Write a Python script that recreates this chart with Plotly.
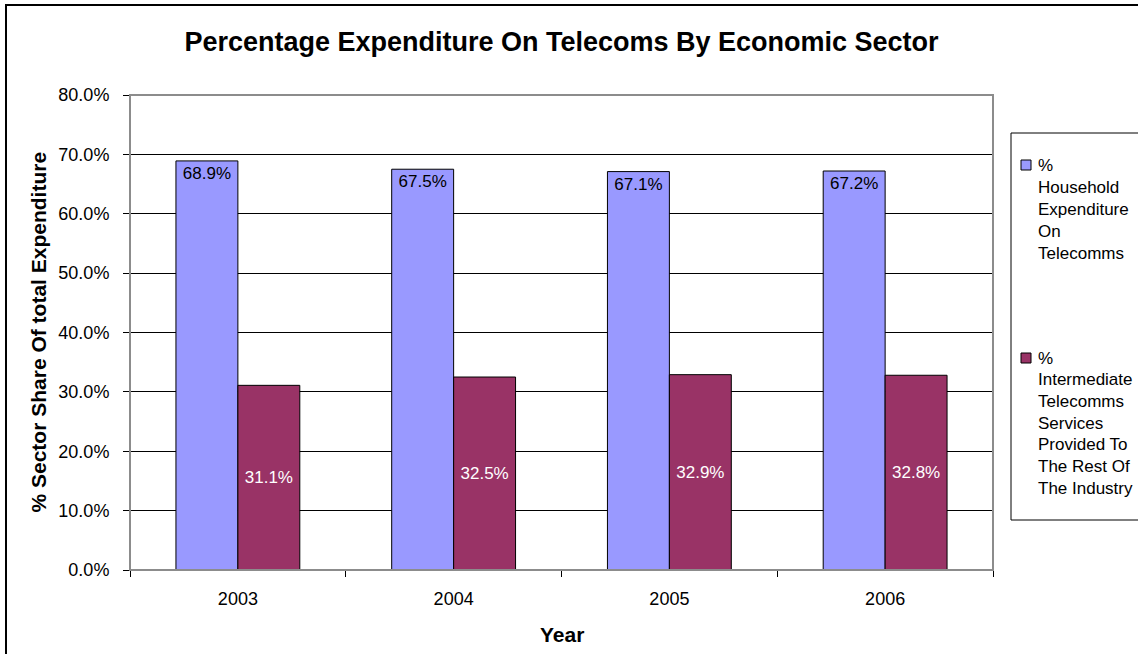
import plotly.graph_objects as go

# ---- data ----
years = ["2003", "2004", "2005", "2006"]
household = [68.9, 67.5, 67.1, 67.2]
intermediate = [31.1, 32.5, 32.9, 32.8]
series_names = [
    "% Household Expenditure On Telecomms",
    "% Intermediate Telecomms Services Provided To The Rest Of The Industry",
]
legend_lines = [
    ["%", "Household", "Expenditure", "On", "Telecomms"],
    ["%", "Intermediate", "Telecomms", "Services", "Provided To", "The Rest Of", "The Industry"],
]
y_ticks = [0, 10, 20, 30, 40, 50, 60, 70, 80]

title = "Percentage Expenditure On Telecoms By Economic Sector"
y_title = "% Sector Share Of total Expenditure"
x_title = "Year"

colors = ["#9999FF", "#993366"]
FONT = "Arial, 'Liberation Sans', sans-serif"

W, H = 1138, 654
L, R, T, B = 130, 993, 95, 570  # plot area in pixels


def px_x(x):
    return (x - L) / (R - L)


def px_y(y):
    return (B - y) / (B - T)


fig = go.Figure()
fig.add_trace(go.Bar(
    x=years, y=household, name=series_names[0],
    marker=dict(color=colors[0], line=dict(color="#000000", width=1)),
    text=[f"{v:.1f}%" for v in household], textposition="inside",
    insidetextanchor="end", textangle=0,
    textfont=dict(family=FONT, size=17, color="#000000"),
    showlegend=False,
))
fig.add_trace(go.Bar(
    x=years, y=intermediate, name=series_names[1],
    marker=dict(color=colors[1], line=dict(color="#000000", width=1)),
    text=[f"{v:.1f}%" for v in intermediate], textposition="inside",
    insidetextanchor="middle", textangle=0,
    textfont=dict(family=FONT, size=17, color="#FFFFFF"),
    showlegend=False,
))

shapes = [
    # plot area border (gray top/right)
    dict(type="rect", xref="paper", yref="paper", x0=0, x1=1, y0=0, y1=1,
         line=dict(color="#8C8C8C", width=2), layer="above"),
    # outer chart border
    dict(type="rect", xref="paper", yref="paper",
         x0=px_x(6), x1=px_x(1200), y0=px_y(700), y1=px_y(5),
         line=dict(color="#000000", width=2), layer="below"),
    # legend box
    dict(type="rect", xref="paper", yref="paper",
         x0=px_x(1011), x1=px_x(1200), y0=px_y(520), y1=px_y(133),
         line=dict(color="#000000", width=1), fillcolor="white"),
]
annotations = []
entry_top = [165, 358]
line_step = [22.2, 21.7]
for i, lines in enumerate(legend_lines):
    y0 = entry_top[i]
    shapes.append(dict(type="rect", xref="paper", yref="paper",
                       x0=px_x(1021), x1=px_x(1031), y0=px_y(y0 + 5), y1=px_y(y0 - 5),
                       fillcolor=colors[i], line=dict(color="#000000", width=1)))
    for j, line in enumerate(lines):
        annotations.append(dict(
            text=line, xref="paper", yref="paper", x=px_x(1036), y=px_y(y0 + j * line_step[i]),
            xanchor="left", yanchor="middle", showarrow=False,
            font=dict(family=FONT, size=17, color="#000000")))

annotations.append(dict(
    text=f"<b>{y_title}</b>", xref="paper", yref="paper", x=px_x(38), y=0.5,
    xanchor="center", yanchor="middle", textangle=-90, showarrow=False,
    font=dict(family=FONT, size=21, color="#000000")))
annotations.append(dict(
    text=f"<b>{x_title}</b>", xref="paper", yref="paper", x=0.5, y=px_y(634),
    xanchor="center", yanchor="middle", showarrow=False,
    font=dict(family=FONT, size=21, color="#000000")))

fig.update_layout(
    width=W, height=H,
    margin=dict(l=L, r=W - R, t=T, b=H - B, autoexpand=False),
    paper_bgcolor="white", plot_bgcolor="white",
    barmode="group", bargap=0.426, bargroupgap=0,
    title=dict(text=f"<b>{title}</b>", x=0.5, xref="paper", y=1 - 42 / H,
               yref="container", xanchor="center", yanchor="middle",
               font=dict(family=FONT, size=27, color="#000000")),
    showlegend=False,
    shapes=shapes, annotations=annotations,
    font=dict(family=FONT, size=18, color="#000000"),
)
fig.update_xaxes(
    type="category", tickson="boundaries", ticks="outside", ticklen=6,
    tickcolor="#000000", showline=True, linecolor="#000000", linewidth=1,
    showgrid=False, tickfont=dict(family=FONT, size=18, color="#000000"),
    ticklabelstandoff=12,
)
fig.update_yaxes(
    range=[0, 80], tickvals=y_ticks, ticktext=[f"{v:.1f}%" for v in y_ticks],
    ticks="outside", ticklen=6, tickcolor="#000000",
    showline=True, linecolor="#000000", linewidth=1,
    showgrid=True, gridcolor="#000000", gridwidth=1, zeroline=False,
    tickfont=dict(family=FONT, size=18, color="#000000"),
    ticklabelstandoff=10,
)

fig.write_html("out.html")
